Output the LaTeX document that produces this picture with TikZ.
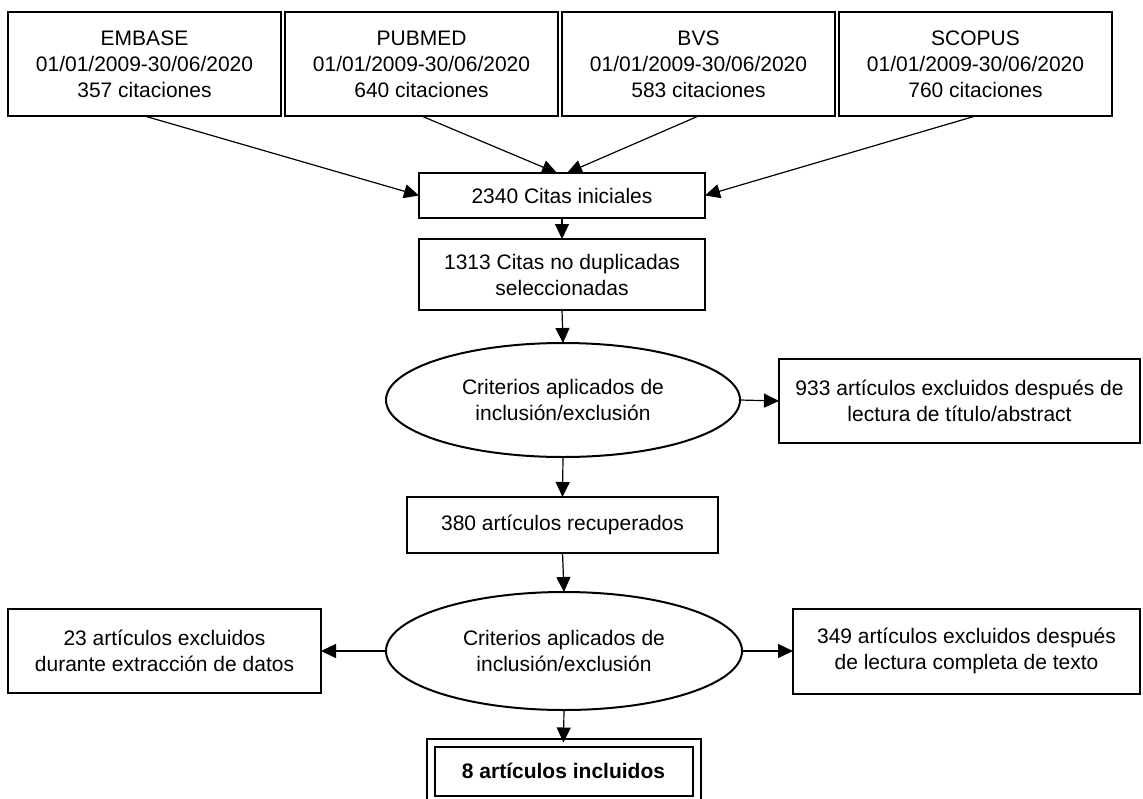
\documentclass[tikz,border=0pt]{standalone}
\usepackage{fontspec}
\setmainfont{Liberation Sans}
\usetikzlibrary{shapes.geometric,arrows.meta}
\begin{document}
\begin{tikzpicture}[x=1pt,y=-1pt,
  every node/.style={font=\fontsize{21}{26}\selectfont, align=center, inner sep=0pt, outer sep=0pt},
  box/.style={draw, line width=2pt, rectangle},
  oval/.style={draw, line width=2pt, ellipse},
  arr/.style={-{Triangle[length=15pt,width=14pt]}, line width=1.2pt}]
\useasboundingbox (0,0) rectangle (1143,798);
\clip (0,0) rectangle (1143,798);

% top sources
\node[box, minimum width=273pt, minimum height=104pt] (embase) at (144.5,64) {EMBASE\\01/01/2009-30/06/2020\\357 citaciones};
\node[box, minimum width=273pt, minimum height=104pt] (pubmed) at (421.5,64) {PUBMED\\01/01/2009-30/06/2020\\640 citaciones};
\node[box, minimum width=273pt, minimum height=104pt] (bvs) at (698.5,64) {BVS\\01/01/2009-30/06/2020\\583 citaciones};
\node[box, minimum width=273pt, minimum height=104pt] (scopus) at (975.5,64) {SCOPUS\\01/01/2009-30/06/2020\\760 citaciones};

\node[box, minimum width=286pt, minimum height=45pt] (citas) at (562,195.5) {2340 Citas iniciales};
\node[box, minimum width=286pt, minimum height=71pt] (nodup) at (562,274.5) {1313 Citas no duplicadas\\seleccionadas};
\node[oval, minimum width=354pt, minimum height=114pt] (crit1) at (563,400) {Criterios aplicados de\\inclusión/exclusión};
\node[box, minimum width=361pt, minimum height=84pt] (excl933) at (959.5,401) {933 artículos excluidos después de\\lectura de título/abstract};
\node[box, minimum width=311pt, minimum height=56pt] (recup) at (562.5,525) {380 artículos recuperados};
\node[oval, minimum width=356pt, minimum height=118pt] (crit2) at (564,651) {Criterios aplicados de\\inclusión/exclusión};
\node[box, minimum width=313pt, minimum height=84pt] (excl23) at (164.5,651) {23 artículos excluidos\\durante extracción de datos};
\node[box, minimum width=347pt, minimum height=85pt] (excl349) at (966.5,651) {349 artículos excluidos después\\de lectura completa de texto};
\node[draw, line width=2pt, double, double distance=6pt, minimum width=266pt, minimum height=57pt, font=\fontsize{21}{26}\selectfont\bfseries] (incl) at (563.5,771) {8 artículos incluidos};

% connectors
\draw[arr] (embase.south) -- (citas.west);
\draw[arr] (pubmed.south) -- ([xshift=-5pt]citas.north);
\draw[arr] (bvs.south) -- ([xshift=5pt]citas.north);
\draw[arr] (scopus.south) -- (citas.east);
\draw[arr] (citas.south) -- (nodup.north);
\draw[arr] (nodup.south) -- (crit1.north);
\draw[arr] (crit1.east) -- (excl933.west);
\draw[arr] (crit1.south) -- (recup.north);
\draw[arr] (recup.south) -- (crit2.north);
\draw[arr] (crit2.west) -- (excl23.east);
\draw[arr] (crit2.east) -- (excl349.west);
\draw[arr] (crit2.south) -- (incl.north);
\end{tikzpicture}
\end{document}
